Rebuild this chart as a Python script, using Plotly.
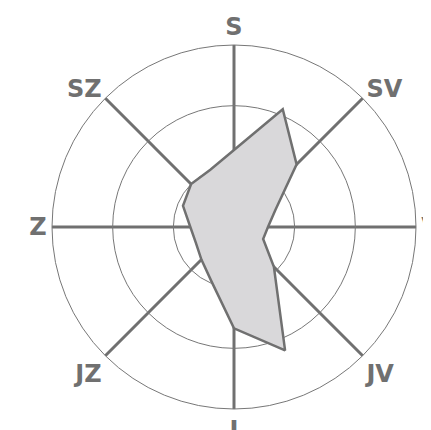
import plotly.graph_objects as go

# 16 compass directions (degrees clockwise from north)
directions = [0, 22.5, 45, 67.5, 90, 112.5, 135, 157.5,
              180, 202.5, 225, 247.5, 270, 292.5, 315, 337.5]
values = [6.35, 10.5, 7.3, 3.7, 2.8, 2.6, 4.65, 11.0,
          8.35, 4.85, 3.8, 3.4, 3.6, 4.55, 5.0, 5.1]

tick_angles = [0, 45, 90, 135, 180, 225, 270, 315]
tick_labels = ["S", "SV", "V", "JV", "J", "JZ", "Z", "SZ"]
radial_ticks = [5, 10, 15]

theta = directions + [directions[0]]
r = values + [values[0]]

fig = go.Figure()
fig.add_trace(go.Scatterpolar(
    r=r, theta=theta, mode="lines", fill="toself",
    fillcolor="#d9d8da",
    line=dict(color="#707070", width=2.5),
    hoverinfo="skip", showlegend=False,
))

fig.update_layout(
    width=431, height=430,
    margin=dict(l=44, r=23, t=37, b=29),
    paper_bgcolor="white",
    plot_bgcolor="white",
    polar=dict(
        bgcolor="white",
        domain=dict(x=[0, 1], y=[0, 1]),
        angularaxis=dict(
            rotation=90, direction="clockwise",
            tickmode="array", tickvals=tick_angles, ticktext=tick_labels,
            showline=True, linecolor="#777777", linewidth=1,
            showgrid=True, gridcolor="#707070", gridwidth=3,
            ticks="",
            tickfont=dict(family="DejaVu Sans, Arial, sans-serif", size=24,
                          color="#707070", weight="bold"),
        ),
        radialaxis=dict(
            range=[0, 15], tickmode="array", tickvals=radial_ticks,
            showticklabels=False, ticks="",
            showline=False, showgrid=True, gridcolor="#777777", gridwidth=1,
        ),
    ),
)

fig.write_html("out.html")
